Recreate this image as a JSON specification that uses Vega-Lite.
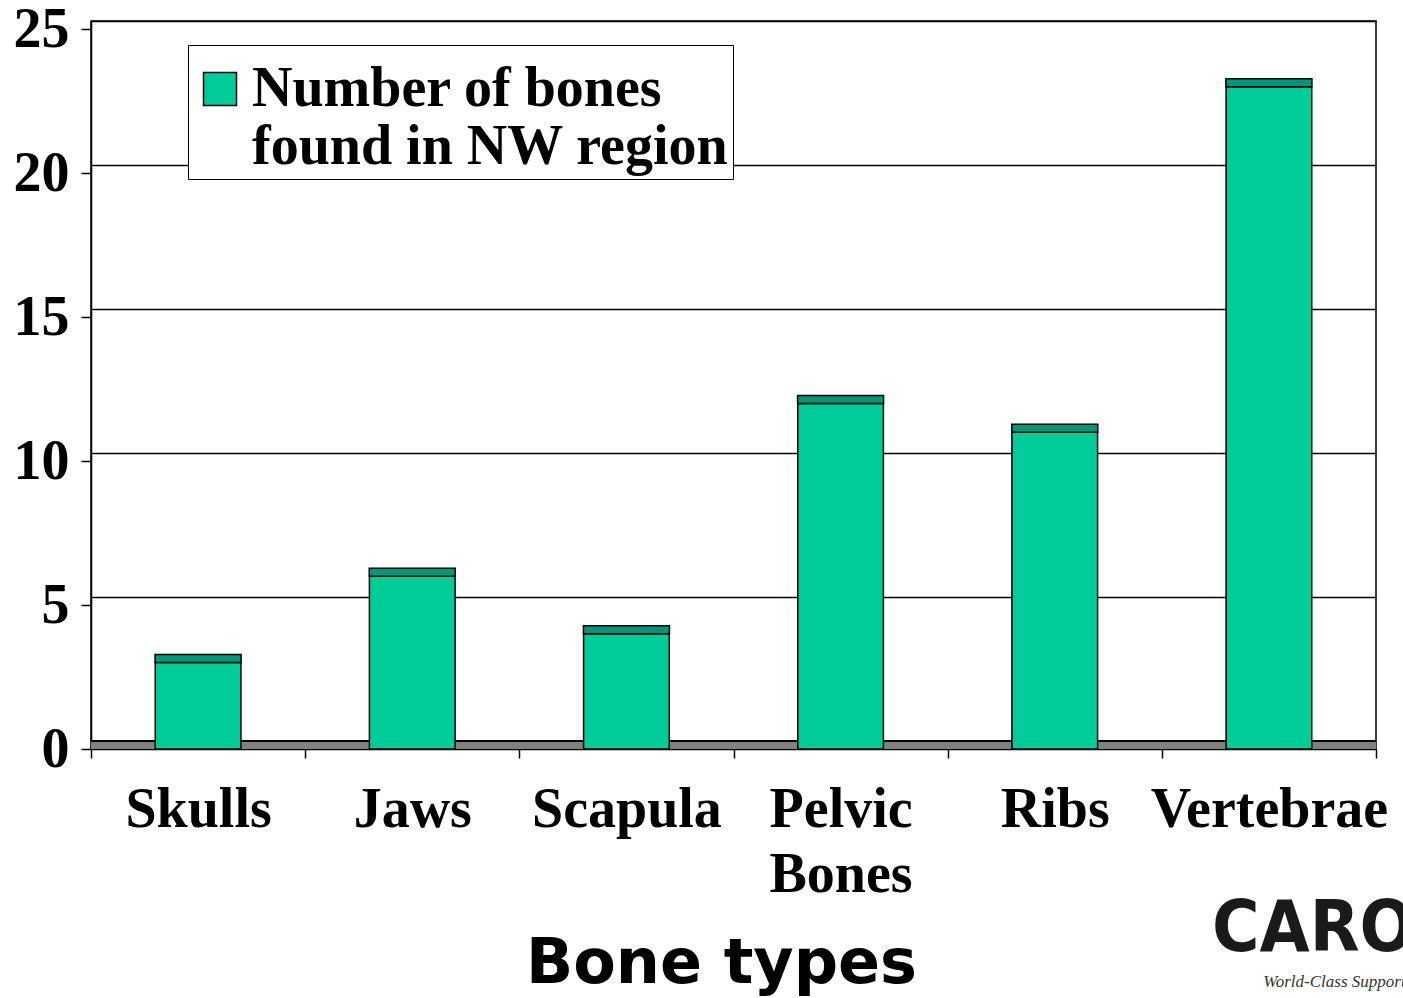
{
  "$schema": "https://vega.github.io/schema/vega-lite/v6.json",
  "width": 1285,
  "height": 728,
  "autosize": {"type": "none"},
  "padding": {"left": 91, "top": 21, "right": 27, "bottom": 249},
  "background": "white",
  "config": {
    "view": {"stroke": "black", "strokeWidth": 1.5},
    "axis": {"domainColor": "black", "tickColor": "black", "gridColor": "black"}
  },
  "title": {
    "text": "CARO",
    "subtitle": "World-Class Support f",
    "orient": "bottom",
    "anchor": "end",
    "dx": 27,
    "offset": -100,
    "font": "DejaVu Sans Condensed",
    "fontWeight": "bold",
    "fontSize": 72,
    "color": "#1a1a1a",
    "subtitleFont": "Liberation Serif",
    "subtitleFontStyle": "italic",
    "subtitleFontSize": 17,
    "subtitleColor": "#333333",
    "subtitlePadding": 8
  },
  "data": {
    "values": [
      {"bone": "Skulls", "count": 3},
      {"bone": "Jaws", "count": 6},
      {"bone": "Scapula", "count": 4},
      {"bone": "Pelvic Bones", "count": 12},
      {"bone": "Ribs", "count": 11},
      {"bone": "Vertebrae", "count": 23}
    ]
  },
  "resolve": {"axis": {"y": "independent"}},
  "layer": [
    {
      "mark": {"type": "rule", "color": "#808080", "strokeWidth": 8, "yOffset": -4},
      "encoding": {
        "y": {
          "datum": 0,
          "type": "quantitative",
          "scale": {"domain": [0, 25.28], "nice": false, "zero": true},
          "axis": {
            "orient": "left",
            "grid": true,
            "gridWidth": 1.5,
            "tickOffset": -8,
            "values": [0, 5, 10, 15, 20, 25],
            "labels": false,
            "ticks": false,
            "domain": false,
            "title": null
          }
        }
      }
    },
    {
      "mark": {"type": "rule", "color": "black", "strokeWidth": 1.5, "yOffset": -8},
      "encoding": {"y": {"datum": 0, "type": "quantitative", "axis": null}}
    },
    {
      "mark": {"type": "bar", "stroke": "black", "strokeWidth": 1.5, "width": {"band": 0.4}},
      "encoding": {
        "x": {
          "field": "bone",
          "type": "nominal",
          "sort": null,
          "scale": {"paddingInner": 0, "paddingOuter": 0},
          "axis": {
            "title": "Bone types",
            "titleFont": "DejaVu Sans",
            "titleFontWeight": "bold",
            "titleFontSize": 62,
            "titleColor": "black",
            "titlePadding": 31,
            "titleX": 630,
            "labelAngle": 0,
            "labelFont": "Liberation Serif",
            "labelFontWeight": "bold",
            "labelFontSize": 56,
            "labelLineHeight": 65,
            "labelColor": "black",
            "labelPadding": 24,
            "labelLimit": 0,
            "labelExpr": "split(datum.label, ' ')",
            "tickBand": "extent",
            "tickSize": 9,
            "tickWidth": 1.5,
            "domainWidth": 1.5
          }
        },
        "y": {
          "field": "count",
          "type": "quantitative",
          "axis": {
            "orient": "left",
            "values": [0, 5, 10, 15, 20, 25],
            "grid": false,
            "title": null,
            "labelFont": "Liberation Serif",
            "labelFontWeight": "bold",
            "labelFontSize": 56,
            "labelColor": "black",
            "labelPadding": 12,
            "tickSize": 10,
            "tickWidth": 1.5,
            "domainWidth": 1.5
          }
        },
        "color": {
          "datum": "Number of bones found in NW region",
          "type": "nominal",
          "scale": {"range": ["#00CC99"]},
          "legend": {
            "title": " ",
            "titleFontSize": 9,
            "titlePadding": 3,
            "orient": "none",
            "legendX": 97,
            "legendY": 24,
            "fillColor": "white",
            "strokeColor": "black",
            "padding": 4,
            "symbolType": "square",
            "symbolSize": 1089,
            "symbolStrokeColor": "black",
            "symbolStrokeWidth": 1.5,
            "symbolOpacity": 1,
            "labelFont": "Liberation Serif",
            "labelFontWeight": "bold",
            "labelFontSize": 56,
            "labelLineHeight": 61,
            "labelColor": "black",
            "labelOffset": 4,
            "labelLimit": 0,
            "labelExpr": "['Number of bones', 'found in NW region']"
          }
        }
      }
    },
    {
      "mark": {"type": "tick", "color": "#00967A", "stroke": "black", "strokeWidth": 1.5, "thickness": 8, "size": 86, "yOffset": -4, "opacity": 1},
      "encoding": {
        "x": {"field": "bone", "type": "nominal", "sort": null},
        "y": {"field": "count", "type": "quantitative", "axis": null}
      }
    }
  ]
}
